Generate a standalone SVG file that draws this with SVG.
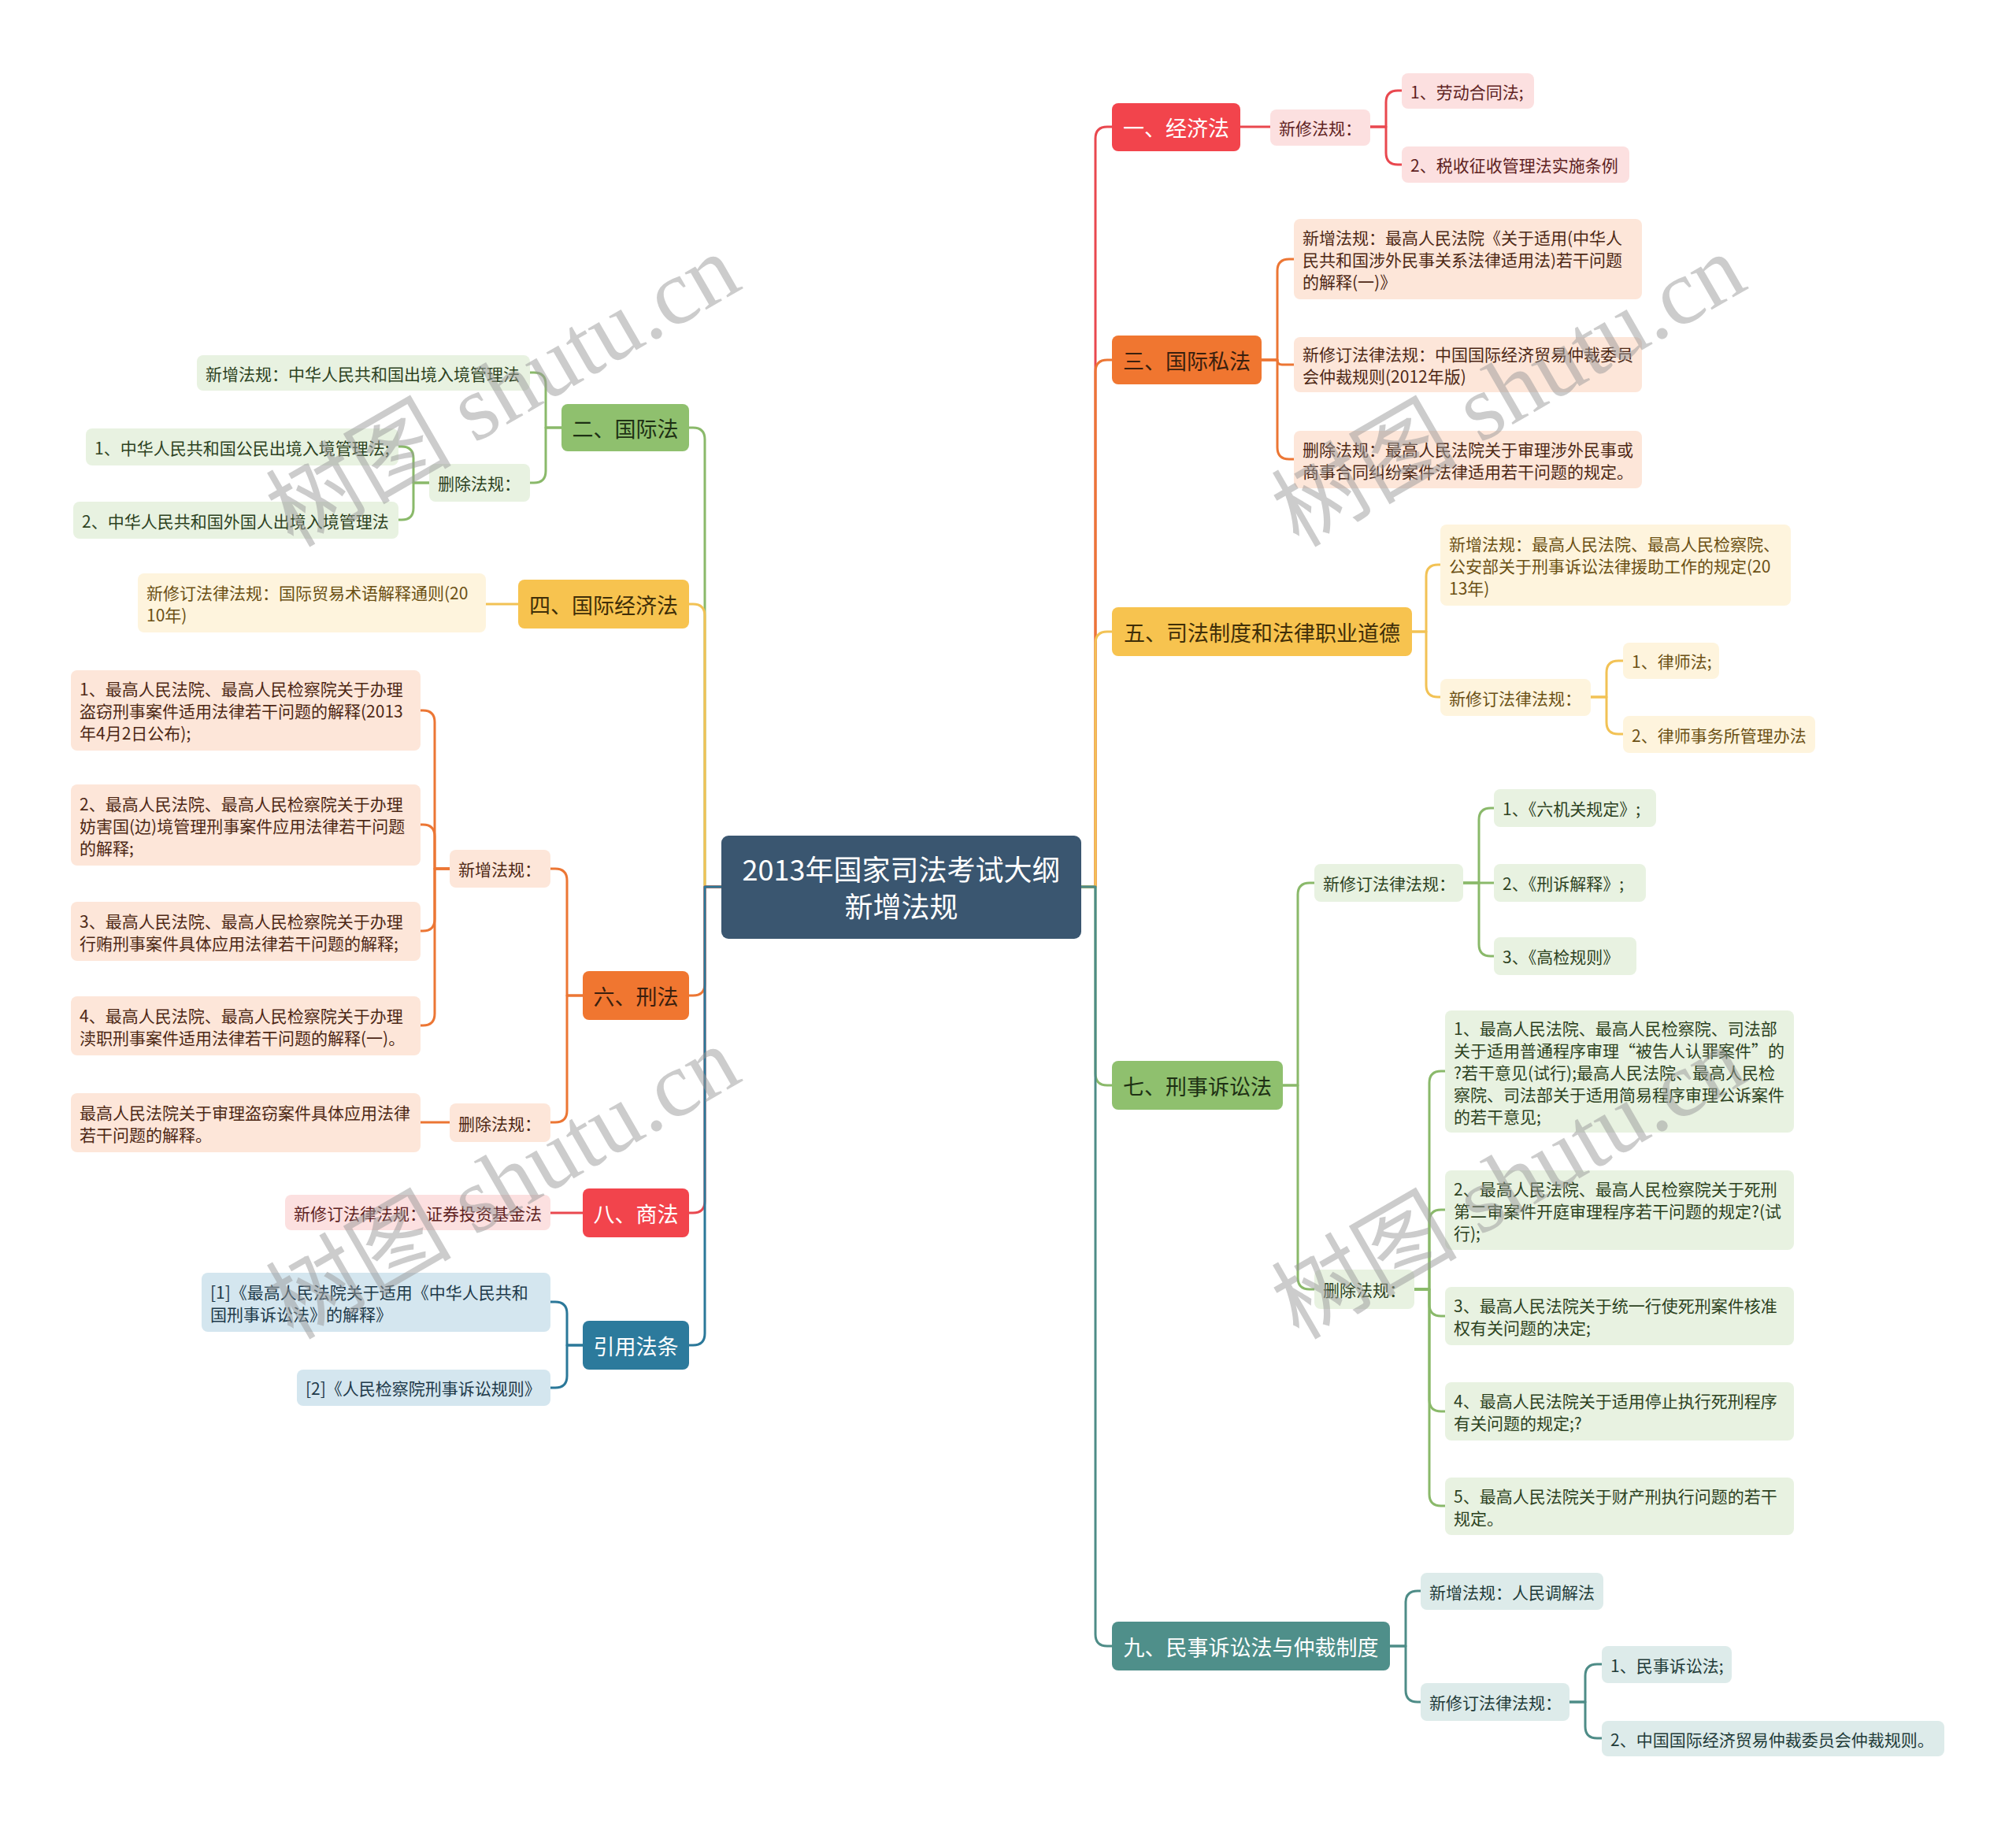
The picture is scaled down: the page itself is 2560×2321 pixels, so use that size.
<svg xmlns="http://www.w3.org/2000/svg" width="2560" height="2321" viewBox="0 0 2560 2321">
<style>
text{font-family:"Noto Sans CJK SC","Noto Sans",sans-serif;dominant-baseline:central}
.t0{font-size:36px;fill:#fff;text-anchor:middle}
.t1{font-size:27px;text-anchor:middle}
.t2{font-size:21px}
.ln{fill:none;stroke-width:3;stroke-linecap:round;stroke-linejoin:round}
.lr{stroke:#E9484F}.lo{stroke:#EC7634}.ly{stroke:#F2C255}.lg{stroke:#8AB96A}.lt{stroke:#4E8C87}.lb{stroke:#2B7899}
.fr{fill:#F2444C}.fo{fill:#F07630}.fy{fill:#F7C34F}.fg{fill:#8FC06E}.ft{fill:#4F8F8A}.fb{fill:#2C7A9C}.froot{fill:#3A5670}
.pr{fill:#FCE0E0}.po{fill:#FDE6D9}.py{fill:#FEF4DD}.pg{fill:#E8F2E1}.pt{fill:#DDEBEA}.pb{fill:#D4E6EF}
.w{fill:#fff}.kr{fill:#5E1F22}.ko{fill:#4D2815}.ky{fill:#6B5014}.kg{fill:#2D421F}.kt{fill:#1F3B39}.kb{fill:#1E3A4A}
.ho{fill:#3A1F0E}.hy{fill:#3F2E08}.hg{fill:#1E3014}
.wm{font-family:"Liberation Serif","Noto Sans CJK SC",serif;font-size:118px;fill:#9a9a9a;opacity:0.5;dominant-baseline:alphabetic}
</style>
<rect width="2560" height="2321" fill="#fff"/>
<g id="connectors">
<path class="ln lr" d="M1373,1126 H1391 V176 Q1391,161 1406,161 H1412"/>
<path class="ln lo" d="M1373,1126 H1391 V472 Q1391,457 1406,457 H1412"/>
<path class="ln ly" d="M1373,1126 H1391 V817 Q1391,802 1406,802 H1412"/>
<path class="ln lg" d="M1373,1126 H1391 V1363 Q1391,1378 1406,1378 H1412"/>
<path class="ln lt" d="M1373,1126 H1391 V2075 Q1391,2090 1406,2090 H1412"/>
<path class="ln lg" d="M916,1126 H895 V558 Q895,543 880,543 H875"/>
<path class="ln ly" d="M916,1126 H895 V782 Q895,767 880,767 H875"/>
<path class="ln lo" d="M916,1126 H895 V1249 Q895,1264 880,1264 H875"/>
<path class="ln lr" d="M916,1126 H895 V1525 Q895,1540 880,1540 H875"/>
<path class="ln lb" d="M916,1126 H895 V1693 Q895,1708 880,1708 H875"/>
<path class="ln lr" d="M1575,161 H1613"/>
<path class="ln lr" d="M1740,161 H1760 V130 Q1760,115 1775,115 H1780"/>
<path class="ln lr" d="M1740,161 H1760 V194 Q1760,209 1775,209 H1780"/>
<path class="ln lo" d="M1602,457 H1622 V344 Q1622,329 1637,329 H1643"/>
<path class="ln lo" d="M1602,457 H1622 V457 Q1622,463 1628,463 H1643"/>
<path class="ln lo" d="M1602,457 H1622 V568 Q1622,583 1637,583 H1643"/>
<path class="ln ly" d="M1793,802 H1811 V732 Q1811,717 1826,717 H1829"/>
<path class="ln ly" d="M1793,802 H1811 V870 Q1811,885 1826,885 H1829"/>
<path class="ln ly" d="M2020,885 H2040 V854 Q2040,839 2055,839 H2061"/>
<path class="ln ly" d="M2020,885 H2040 V917 Q2040,932 2055,932 H2061"/>
<path class="ln lg" d="M1629,1378 H1648 V1136 Q1648,1121 1663,1121 H1669"/>
<path class="ln lg" d="M1629,1378 H1648 V1622 Q1648,1637 1663,1637 H1669"/>
<path class="ln lg" d="M1858,1121 H1878 V1041 Q1878,1026 1893,1026 H1897"/>
<path class="ln lg" d="M1858,1121 H1897"/>
<path class="ln lg" d="M1858,1121 H1878 V1199 Q1878,1214 1893,1214 H1897"/>
<path class="ln lg" d="M1796,1637 H1815 V1375 Q1815,1360 1830,1360 H1835"/>
<path class="ln lg" d="M1796,1637 H1815 V1551 Q1815,1536 1830,1536 H1835"/>
<path class="ln lg" d="M1796,1637 H1815 V1656 Q1815,1671 1830,1671 H1835"/>
<path class="ln lg" d="M1796,1637 H1815 V1777 Q1815,1792 1830,1792 H1835"/>
<path class="ln lg" d="M1796,1637 H1815 V1897 Q1815,1912 1830,1912 H1835"/>
<path class="ln lt" d="M1765,2090 H1785 V2035 Q1785,2020 1800,2020 H1804"/>
<path class="ln lt" d="M1765,2090 H1785 V2146 Q1785,2161 1800,2161 H1804"/>
<path class="ln lt" d="M1993,2161 H2013 V2128 Q2013,2113 2028,2113 H2034"/>
<path class="ln lt" d="M1993,2161 H2013 V2192 Q2013,2207 2028,2207 H2034"/>
<path class="ln lg" d="M713,543 H693 V488 Q693,473 678,473 H673"/>
<path class="ln lg" d="M713,543 H693 V598 Q693,613 678,613 H673"/>
<path class="ln lg" d="M545,613 H525 V582 Q525,567 510,567 H506"/>
<path class="ln lg" d="M545,613 H525 V645 Q525,660 510,660 H506"/>
<path class="ln ly" d="M658,767 H617"/>
<path class="ln lo" d="M740,1264 H720 V1118 Q720,1103 705,1103 H699"/>
<path class="ln lo" d="M740,1264 H720 V1410 Q720,1425 705,1425 H699"/>
<path class="ln lo" d="M571,1103 H552 V917 Q552,902 537,902 H534"/>
<path class="ln lo" d="M571,1103 H552 V1062 Q552,1047 537,1047 H534"/>
<path class="ln lo" d="M571,1103 H552 V1167 Q552,1182 537,1182 H534"/>
<path class="ln lo" d="M571,1103 H552 V1287 Q552,1302 537,1302 H534"/>
<path class="ln lo" d="M571,1425 H534"/>
<path class="ln lr" d="M740,1540 H699"/>
<path class="ln lb" d="M740,1708 H720 V1668 Q720,1653 705,1653 H699"/>
<path class="ln lb" d="M740,1708 H720 V1747 Q720,1762 705,1762 H699"/>
</g>
<g id="root"><rect class="froot" x="916" y="1061" width="457" height="131" rx="9"/><text class="t0"><tspan x="1144.5" y="1102">2013年国家司法考试大纲</tspan><tspan x="1144.5" y="1149">新增法规</tspan></text></g>
<g id="b1"><rect class="fr" x="1412" y="131" width="163" height="61" rx="8"/><text class="t1 w" x="1493.5" y="161.5">一、经济法</text></g>
<g id="b1-a"><rect class="pr" x="1613" y="139" width="127" height="46" rx="8"/><text class="t2 kr" x="1624" y="162">新修法规：</text></g>
<g id="b1-a1"><rect class="pr" x="1780" y="93" width="168" height="45" rx="8"/><text class="t2 kr" x="1791" y="115.5">1、劳动合同法;</text></g>
<g id="b1-a2"><rect class="pr" x="1780" y="186" width="289" height="46" rx="8"/><text class="t2 kr" x="1791" y="209">2、税收征收管理法实施条例</text></g>
<g id="b3"><rect class="fo" x="1412" y="426" width="190" height="62" rx="8"/><text class="t1 ho" x="1507" y="457">三、国际私法</text></g>
<g id="b3-a"><rect class="po" x="1643" y="278" width="442" height="102" rx="8"/><text class="t2 ko"><tspan x="1654" y="301">新增法规：最高人民法院《关于适用(中华人</tspan><tspan x="1654" y="329">民共和国涉外民事关系法律适用法)若干问题</tspan><tspan x="1654" y="357">的解释(一)》</tspan></text></g>
<g id="b3-b"><rect class="po" x="1643" y="428" width="442" height="70" rx="8"/><text class="t2 ko"><tspan x="1654" y="449">新修订法律法规：中国国际经济贸易仲裁委员</tspan><tspan x="1654" y="477">会仲裁规则(2012年版)</tspan></text></g>
<g id="b3-c"><rect class="po" x="1643" y="547" width="442" height="73" rx="8"/><text class="t2 ko"><tspan x="1654" y="569.5">删除法规：最高人民法院关于审理涉外民事或</tspan><tspan x="1654" y="597.5">商事合同纠纷案件法律适用若干问题的规定。</tspan></text></g>
<g id="b5"><rect class="fy" x="1412" y="771" width="381" height="62" rx="8"/><text class="t1 hy" x="1602.5" y="802">五、司法制度和法律职业道德</text></g>
<g id="b5-a"><rect class="py" x="1829" y="666" width="445" height="103" rx="8"/><text class="t2 ky"><tspan x="1840" y="689.5">新增法规：最高人民法院、最高人民检察院、</tspan><tspan x="1840" y="717.5">公安部关于刑事诉讼法律援助工作的规定(20</tspan><tspan x="1840" y="745.5">13年)</tspan></text></g>
<g id="b5-b"><rect class="py" x="1829" y="862" width="191" height="47" rx="8"/><text class="t2 ky" x="1840" y="885.5">新修订法律法规：</text></g>
<g id="b5-b1"><rect class="py" x="2061" y="816" width="122" height="46" rx="8"/><text class="t2 ky" x="2072" y="839">1、律师法;</text></g>
<g id="b5-b2"><rect class="py" x="2061" y="909" width="244" height="47" rx="8"/><text class="t2 ky" x="2072" y="932.5">2、律师事务所管理办法</text></g>
<g id="b7"><rect class="fg" x="1412" y="1347" width="217" height="62" rx="8"/><text class="t1 hg" x="1520.5" y="1378">七、刑事诉讼法</text></g>
<g id="b7-a"><rect class="pg" x="1669" y="1097" width="189" height="48" rx="8"/><text class="t2 kg" x="1680" y="1121">新修订法律法规：</text></g>
<g id="b7-a1"><rect class="pg" x="1897" y="1002" width="206" height="48" rx="8"/><text class="t2 kg" x="1908" y="1026">1、《六机关规定》;</text></g>
<g id="b7-a2"><rect class="pg" x="1897" y="1097" width="193" height="48" rx="8"/><text class="t2 kg" x="1908" y="1121">2、《刑诉解释》;</text></g>
<g id="b7-a3"><rect class="pg" x="1897" y="1190" width="181" height="48" rx="8"/><text class="t2 kg" x="1908" y="1214">3、《高检规则》</text></g>
<g id="b7-b"><rect class="pg" x="1669" y="1612" width="127" height="50" rx="8"/><text class="t2 kg" x="1680" y="1637">删除法规：</text></g>
<g id="b7-b1"><rect class="pg" x="1835" y="1283" width="443" height="155" rx="8"/><text class="t2 kg"><tspan x="1846" y="1304.5">1、最高人民法院、最高人民检察院、司法部</tspan><tspan x="1846" y="1332.5">关于适用普通程序审理“被告人认罪案件”的</tspan><tspan x="1846" y="1360.5">?若干意见(试行);最高人民法院、最高人民检</tspan><tspan x="1846" y="1388.5">察院、司法部关于适用简易程序审理公诉案件</tspan><tspan x="1846" y="1416.5">的若干意见;</tspan></text></g>
<g id="b7-b2"><rect class="pg" x="1835" y="1486" width="443" height="101" rx="8"/><text class="t2 kg"><tspan x="1846" y="1508.5">2、最高人民法院、最高人民检察院关于死刑</tspan><tspan x="1846" y="1536.5">第二审案件开庭审理程序若干问题的规定?(试</tspan><tspan x="1846" y="1564.5">行);</tspan></text></g>
<g id="b7-b3"><rect class="pg" x="1835" y="1634" width="443" height="74" rx="8"/><text class="t2 kg"><tspan x="1846" y="1657">3、最高人民法院关于统一行使死刑案件核准</tspan><tspan x="1846" y="1685">权有关问题的决定;</tspan></text></g>
<g id="b7-b4"><rect class="pg" x="1835" y="1755" width="443" height="74" rx="8"/><text class="t2 kg"><tspan x="1846" y="1778">4、最高人民法院关于适用停止执行死刑程序</tspan><tspan x="1846" y="1806">有关问题的规定;?</tspan></text></g>
<g id="b7-b5"><rect class="pg" x="1835" y="1876" width="443" height="73" rx="8"/><text class="t2 kg"><tspan x="1846" y="1898.5">5、最高人民法院关于财产刑执行问题的若干</tspan><tspan x="1846" y="1926.5">规定。</tspan></text></g>
<g id="b9"><rect class="ft" x="1412" y="2059" width="353" height="62" rx="8"/><text class="t1 w" x="1588.5" y="2090">九、民事诉讼法与仲裁制度</text></g>
<g id="b9-a"><rect class="pt" x="1804" y="1997" width="232" height="47" rx="8"/><text class="t2 kt" x="1815" y="2020.5">新增法规：人民调解法</text></g>
<g id="b9-b"><rect class="pt" x="1804" y="2137" width="189" height="48" rx="8"/><text class="t2 kt" x="1815" y="2161">新修订法律法规：</text></g>
<g id="b9-b1"><rect class="pt" x="2034" y="2090" width="165" height="47" rx="8"/><text class="t2 kt" x="2045" y="2113.5">1、民事诉讼法;</text></g>
<g id="b9-b2"><rect class="pt" x="2034" y="2185" width="435" height="45" rx="8"/><text class="t2 kt" x="2045" y="2207.5">2、中国国际经济贸易仲裁委员会仲裁规则。</text></g>
<g id="b2"><rect class="fg" x="713" y="513" width="162" height="60" rx="8"/><text class="t1 hg" x="794" y="543">二、国际法</text></g>
<g id="b2-a"><rect class="pg" x="250" y="451" width="423" height="45" rx="8"/><text class="t2 kg" x="261" y="473.5">新增法规：中华人民共和国出境入境管理法</text></g>
<g id="b2-b"><rect class="pg" x="545" y="589" width="128" height="48" rx="8"/><text class="t2 kg" x="556" y="613">删除法规：</text></g>
<g id="b2-b1"><rect class="pg" x="109" y="544" width="397" height="47" rx="8"/><text class="t2 kg" x="120" y="567.5">1、中华人民共和国公民出境入境管理法;</text></g>
<g id="b2-b2"><rect class="pg" x="93" y="637" width="413" height="47" rx="8"/><text class="t2 kg" x="104" y="660.5">2、中华人民共和国外国人出境入境管理法</text></g>
<g id="b4"><rect class="fy" x="658" y="736" width="217" height="62" rx="8"/><text class="t1 hy" x="766.5" y="767">四、国际经济法</text></g>
<g id="b4-a"><rect class="py" x="175" y="728" width="442" height="75" rx="8"/><text class="t2 ky"><tspan x="186" y="751.5">新修订法律法规：国际贸易术语解释通则(20</tspan><tspan x="186" y="779.5">10年)</tspan></text></g>
<g id="b6"><rect class="fo" x="740" y="1233" width="135" height="62" rx="8"/><text class="t1 ho" x="807.5" y="1264">六、刑法</text></g>
<g id="b6-a"><rect class="po" x="571" y="1079" width="128" height="48" rx="8"/><text class="t2 ko" x="582" y="1103">新增法规：</text></g>
<g id="b6-a1"><rect class="po" x="90" y="851" width="444" height="102" rx="8"/><text class="t2 ko"><tspan x="101" y="874">1、最高人民法院、最高人民检察院关于办理</tspan><tspan x="101" y="902">盗窃刑事案件适用法律若干问题的解释(2013</tspan><tspan x="101" y="930">年4月2日公布);</tspan></text></g>
<g id="b6-a2"><rect class="po" x="90" y="996" width="444" height="103" rx="8"/><text class="t2 ko"><tspan x="101" y="1019.5">2、最高人民法院、最高人民检察院关于办理</tspan><tspan x="101" y="1047.5">妨害国(边)境管理刑事案件应用法律若干问题</tspan><tspan x="101" y="1075.5">的解释;</tspan></text></g>
<g id="b6-a3"><rect class="po" x="90" y="1145" width="444" height="75" rx="8"/><text class="t2 ko"><tspan x="101" y="1168.5">3、最高人民法院、最高人民检察院关于办理</tspan><tspan x="101" y="1196.5">行贿刑事案件具体应用法律若干问题的解释;</tspan></text></g>
<g id="b6-a4"><rect class="po" x="90" y="1265" width="444" height="75" rx="8"/><text class="t2 ko"><tspan x="101" y="1288.5">4、最高人民法院、最高人民检察院关于办理</tspan><tspan x="101" y="1316.5">渎职刑事案件适用法律若干问题的解释(一)。</tspan></text></g>
<g id="b6-b"><rect class="po" x="571" y="1401" width="128" height="49" rx="8"/><text class="t2 ko" x="582" y="1425.5">删除法规：</text></g>
<g id="b6-b1"><rect class="po" x="90" y="1388" width="444" height="75" rx="8"/><text class="t2 ko"><tspan x="101" y="1411.5">最高人民法院关于审理盗窃案件具体应用法律</tspan><tspan x="101" y="1439.5">若干问题的解释。</tspan></text></g>
<g id="b8"><rect class="fr" x="740" y="1509" width="135" height="62" rx="8"/><text class="t1 w" x="807.5" y="1540">八、商法</text></g>
<g id="b8-a"><rect class="pr" x="362" y="1517" width="337" height="45" rx="8"/><text class="t2 kr" x="373" y="1539.5">新修订法律法规：证券投资基金法</text></g>
<g id="bref"><rect class="fb" x="740" y="1677" width="135" height="62" rx="8"/><text class="t1 w" x="807.5" y="1708">引用法条</text></g>
<g id="bref-a"><rect class="pb" x="256" y="1616" width="443" height="75" rx="8"/><text class="t2 kb"><tspan x="267" y="1639.5">[1]《最高人民法院关于适用《中华人民共和</tspan><tspan x="267" y="1667.5">国刑事诉讼法》的解释》</tspan></text></g>
<g id="bref-b"><rect class="pb" x="377" y="1739" width="322" height="46" rx="8"/><text class="t2 kb" x="388" y="1762">[2]《人民检察院刑事诉讼规则》</text></g>
<g id="watermarks">
<text class="wm" x="372" y="696" transform="rotate(-30 372 696)">树图 shutu.cn</text>
<text class="wm" x="1649" y="696" transform="rotate(-30 1649 696)">树图 shutu.cn</text>
<text class="wm" x="372" y="1702" transform="rotate(-30 372 1702)">树图 shutu.cn</text>
<text class="wm" x="1649" y="1702" transform="rotate(-30 1649 1702)">树图 shutu.cn</text>
</g>
</svg>
